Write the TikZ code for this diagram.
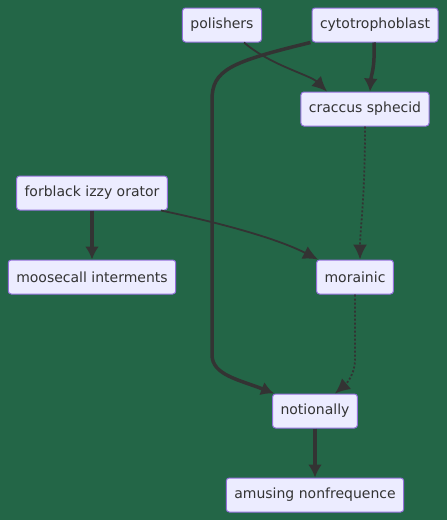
\documentclass[tikz,border=0pt]{standalone}
\usepackage{fontspec}
\setmainfont{DejaVu Sans}
\usetikzlibrary{arrows.meta}
\definecolor{bgcol}{RGB}{35,102,71}
\definecolor{boxfill}{RGB}{236,236,255}
\definecolor{boxline}{RGB}{147,112,219}
\definecolor{inkcol}{RGB}{51,51,51}
\tikzset{
  box/.style={draw=boxline,fill=boxfill,line width=1pt,rounded corners=3pt,
    minimum height=34pt,inner xsep=8pt,text=inkcol,
    font=\fontsize{14}{16}\selectfont},
  thinedge/.style={draw=inkcol,line width=1.8pt,-{Latex[length=15pt,width=14pt]}},
  thickedge/.style={draw=inkcol,line width=3.5pt,-{Latex[length=13pt,width=14pt]}},
  dotedge/.style={draw=inkcol,line width=1.8pt,dash pattern=on 2pt off 2pt,-{Latex[length=15pt,width=14pt]}}
}
\begin{document}
\begin{tikzpicture}[x=1pt,y=-1pt]
\fill[bgcol] (0,0) rectangle (447,520);
\useasboundingbox (0,0) rectangle (447,520);
% nodes
\node[box] (pol) at (222,25) {polishers};
\node[box] (cyto) at (375,25) {cytotrophoblast};
\node[box] (crac) at (365,109) {craccus sphecid};
\node[box] (forb) at (92,193) {forblack izzy orator};
\node[box] (moos) at (92,277) {moosecall interments};
\node[box] (mora) at (355,277) {morainic};
\node[box] (noti) at (315,411) {notionally};
\node[box] (amus) at (315,495) {amusing nonfrequence};
% edges
\draw[thinedge] (pol.south east) ++(-18,0) .. controls (270,65) and (310,75) .. ([xshift=-38pt]crac.north);
\draw[thickedge] ([xshift=-1pt]cyto.south) .. controls (375,70) and (371,75) .. ([xshift=5pt]crac.north);
\draw[thickedge] ([xshift=-1pt]cyto.south west) .. controls (230,62) and (212,70) .. (212,100)
  -- (212,355) .. controls (212,375) and (240,380) .. ([xshift=2pt]noti.north west);
\draw[dotedge] (crac.south) .. controls (365,200) and (360,230) .. ([xshift=5pt]mora.north);
\draw[thickedge] (forb.south) -- (moos.north);
\draw[thinedge] ([xshift=-7pt]forb.south east) .. controls (230,225) and (280,240) .. ([xshift=2pt]mora.north west);
\draw[dotedge] (mora.south) -- (355,360) .. controls (355,375) and (345,385) .. ([xshift=20pt]noti.north);
\draw[thickedge] (noti.south) -- (amus.north);
\end{tikzpicture}
\end{document}
